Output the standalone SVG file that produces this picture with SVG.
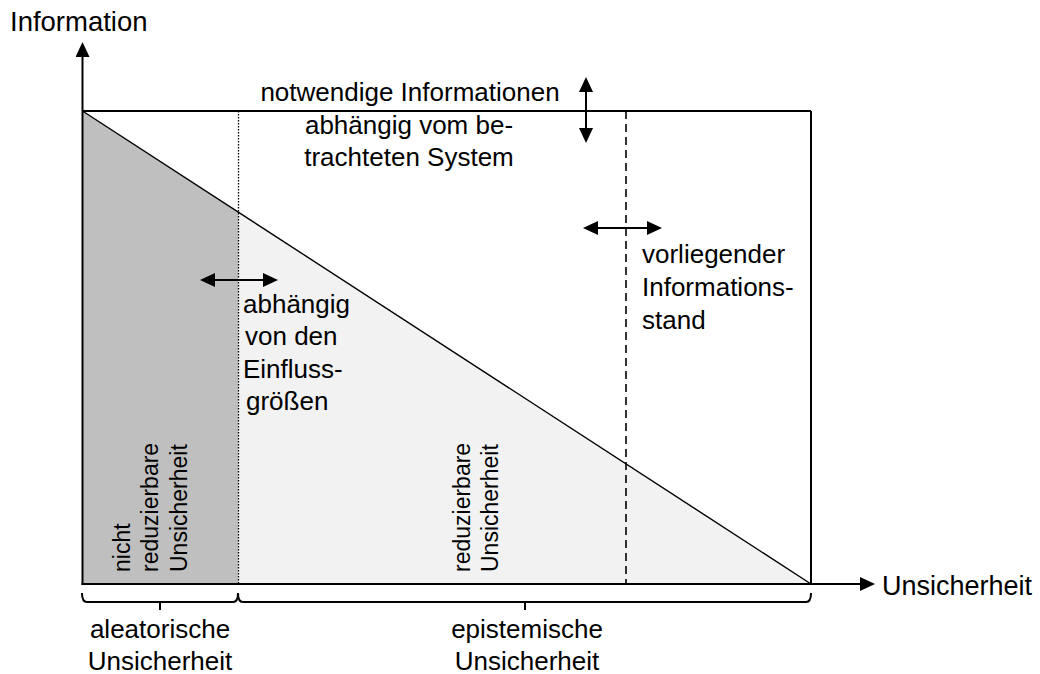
<svg xmlns="http://www.w3.org/2000/svg" width="1040" height="674" viewBox="0 0 1040 674">
<style>
text{font-family:"Liberation Sans",Arial,sans-serif;fill:#000}
.t{font-size:26px}
.v{font-size:23px}
.mid{text-anchor:middle}
.ax{stroke:#000;stroke-width:2;fill:none}
.arr{stroke:#000;stroke-width:2;fill:none;marker-end:url(#ah)}
.darr{stroke:#000;stroke-width:2;fill:none;marker-start:url(#ah);marker-end:url(#ah)}
</style>
<defs>
<marker id="ah" viewBox="0 0 15 14" refX="12" refY="7" markerWidth="15" markerHeight="14" markerUnits="userSpaceOnUse" orient="auto-start-reverse">
<path d="M0,0 L15,7 L0,14 z" fill="#000"/>
</marker>
</defs>
<rect width="1040" height="674" fill="#fff"/>
<g id="regions">
<polygon points="82.5,111 238.5,212.5 238.5,584 82.5,584" fill="#bfbfbf"/>
<polygon points="238.5,212.5 811,584 238.5,584" fill="#f2f2f2"/>
</g>
<g id="lines">
<line x1="82.5" y1="111" x2="811" y2="584" stroke="#000" stroke-width="1.4"/>
<line x1="238.5" y1="111" x2="238.5" y2="584" stroke="#000" stroke-width="1.3" stroke-dasharray="1.5,1.5"/>
<line x1="626" y1="111" x2="626" y2="584" stroke="#000" stroke-width="1.6" stroke-dasharray="8,5"/>
<line class="ax" x1="82" y1="111" x2="811" y2="111"/>
<line class="ax" x1="811" y1="111" x2="811" y2="585"/>
</g>
<g id="axes">
<line class="arr" x1="82.5" y1="585" x2="82.5" y2="45"/>
<line class="arr" x1="81.5" y1="584" x2="872" y2="584"/>
</g>
<g id="connectors">
<line class="darr" x1="586" y1="80" x2="586" y2="140"/>
<line class="darr" x1="586" y1="228" x2="659" y2="228"/>
<line class="darr" x1="203" y1="280" x2="275" y2="280"/>
</g>
<g id="braces">
<path class="ax" d="M82,593 Q82,602 87,602 H233 Q238,602 238,593 M160,602 V610"/>
<path class="ax" d="M238,593 Q238,602 243,602 H806 Q811,602 811,593 M525,602 V610"/>
</g>
<g id="label-information"><text class="t" x="10" y="31" style="font-size:27.5px">Information</text></g>
<g id="label-unsicherheit"><text class="t" x="882" y="595" style="font-size:27px">Unsicherheit</text></g>
<g id="label-notwendig">
<text class="t mid" x="410" y="101">notwendige Informationen</text>
<text class="t mid" x="409" y="134">abhängig vom be-</text>
<text class="t mid" x="409" y="166">trachteten System</text>
</g>
<g id="label-vorliegend">
<text class="t" x="642" y="263">vorliegender</text>
<text class="t" x="642" y="296">Informations-</text>
<text class="t" x="642" y="329">stand</text>
</g>
<g id="label-einfluss">
<text class="t" x="243" y="313">abhängig</text>
<text class="t" x="245" y="345">von den</text>
<text class="t" x="243" y="378">Einfluss-</text>
<text class="t" x="246" y="410">größen</text>
</g>
<g id="label-nicht-reduzierbar">
<text class="v" transform="translate(130,572) rotate(-90)">nicht</text>
<text class="v" transform="translate(158,572) rotate(-90)">reduzierbare</text>
<text class="v" transform="translate(187,572) rotate(-90)">Unsicherheit</text>
</g>
<g id="label-reduzierbar">
<text class="v" transform="translate(470,572) rotate(-90)">reduzierbare</text>
<text class="v" transform="translate(498,572) rotate(-90)">Unsicherheit</text>
</g>
<g id="label-aleatorisch">
<text class="t mid" x="160" y="638">aleatorische</text>
<text class="t mid" x="160" y="670">Unsicherheit</text>
</g>
<g id="label-epistemisch">
<text class="t mid" x="527" y="638">epistemische</text>
<text class="t mid" x="527" y="670">Unsicherheit</text>
</g>
</svg>
